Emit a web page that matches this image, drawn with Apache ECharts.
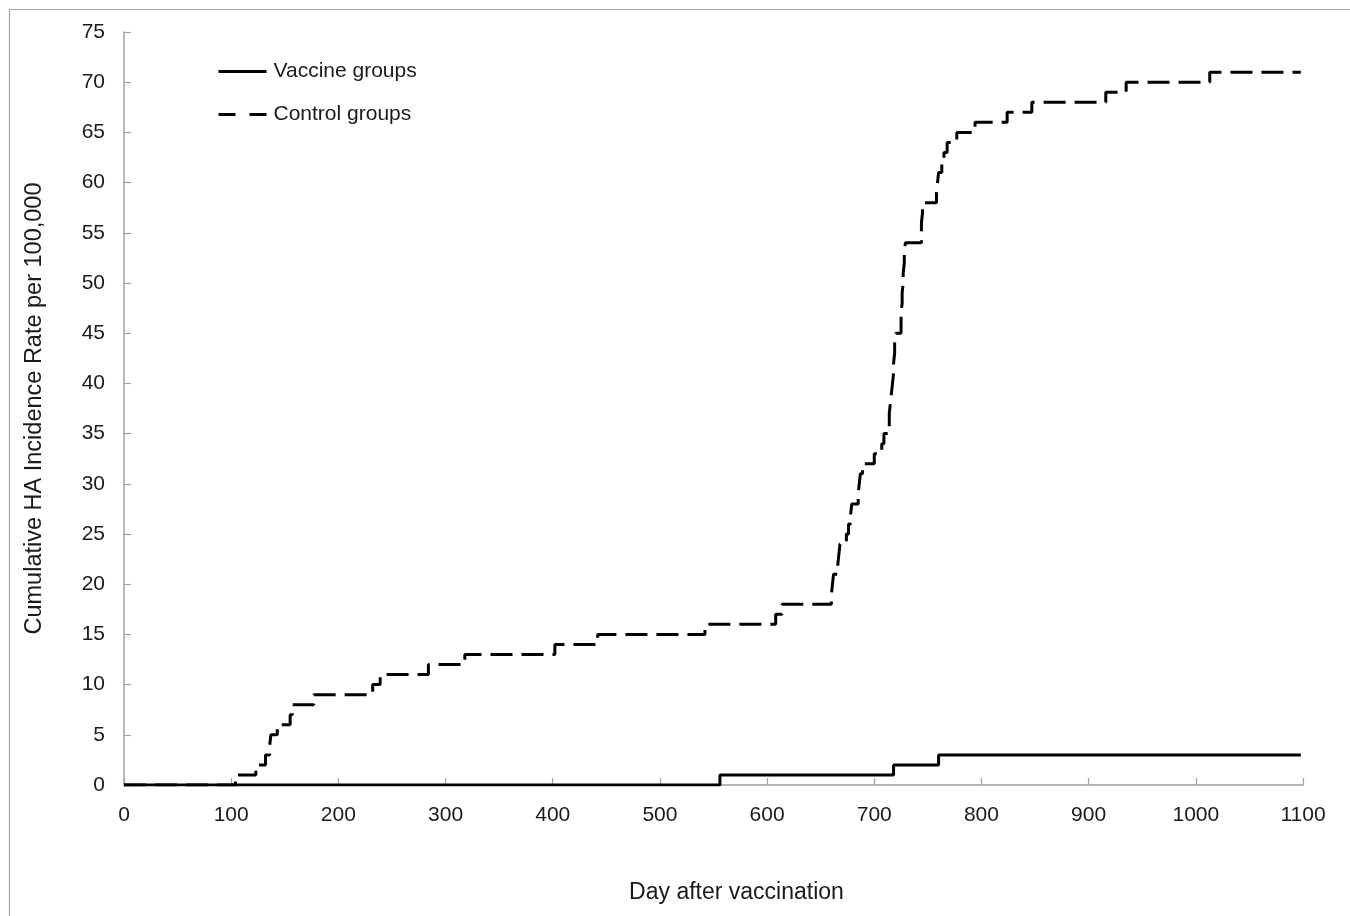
<!DOCTYPE html>
<html>
<head>
<meta charset="utf-8">
<script src="https://cdn.jsdelivr.net/npm/echarts@6/dist/echarts.min.js"></script>
<style>
html,body{margin:0;padding:0;background:#fff;}
#chart{width:1350px;height:916px;}
</style>
</head>
<body>
<div id="chart"></div>
<script>
var seriesNames = ['Vaccine groups', 'Control groups'];
var xTicks = [0, 100, 200, 300, 400, 500, 600, 700, 800, 900, 1000, 1100];
var yTicks = [0, 5, 10, 15, 20, 25, 30, 35, 40, 45, 50, 55, 60, 65, 70, 75];

var vaccineDays  = [0, 556, 718, 760, 1098];
var vaccineRates = [0, 1, 2, 3, 3];

var controlDays  = [0, 104, 123, 132, 136, 137, 143, 155, 157, 177, 232, 239, 284, 318, 402, 442, 542, 608, 614,
                    660, 661, 662, 666, 667, 668, 674, 676, 678, 679, 685, 686, 687, 689, 700, 707, 709,
                    714, 714, 715, 716, 717, 718, 718, 719, 719, 720, 725, 725, 726, 726, 727, 727, 728, 728, 729,
                    744, 744, 745, 745, 758, 759, 760, 763, 765, 768, 777, 794, 824, 847, 916, 935, 1013, 1098];
var controlRates = [0, 1, 2, 3, 4, 5, 6, 7, 8, 9, 10, 11, 12, 13, 14, 15, 16, 17, 18,
                    19, 20, 21, 22, 23, 24, 25, 26, 27, 28, 29, 30, 31, 32, 33, 34, 35,
                    36, 37, 38, 39, 40, 41, 42, 43, 44, 45, 46, 47, 48, 49, 50, 51, 52, 53, 54,
                    55, 56, 57, 58, 59, 60, 61, 62, 63, 64, 65, 66, 67, 68, 69, 70, 71, 71];

function pairs(xs, ys) { return xs.map(function (x, i) { return [x, ys[i]]; }); }

var FONT = '"Liberation Sans", Arial, sans-serif';
var chart = echarts.init(document.getElementById('chart'), null, {renderer: 'canvas'});
chart.setOption({
  backgroundColor: '#fff',
  animation: false,
  textStyle: {fontFamily: FONT, color: '#1a1a1a'},
  graphic: [{
    type: 'rect', left: 7, top: 7, silent: true, z: -1,
    shape: {width: 1400, height: 960},
    style: {fill: 'none', stroke: '#a6a6a6', lineWidth: 1.2}
  }],
  grid: {left: 124, right: 47, top: 32, bottom: 131, containLabel: false},
  legend: {
    orient: 'vertical', left: 217, top: 61, padding: 0, itemWidth: 48, itemHeight: 22, itemGap: 22,
    itemStyle: {opacity: 0},
    textStyle: {fontFamily: FONT, fontSize: 21, color: '#1a1a1a', padding: [0, 0, 0, 2]},
    data: [
      {name: seriesNames[0], lineStyle: {color: '#000', width: 3, type: 'solid'}},
      {name: seriesNames[1], lineStyle: {color: '#000', width: 3, type: [17, 14]}}
    ]
  },
  xAxis: {
    type: 'value', min: xTicks[0], max: xTicks[xTicks.length - 1], interval: 100,
    name: 'Day after vaccination', nameLocation: 'middle', nameGap: 96,
    nameTextStyle: {fontFamily: FONT, fontSize: 23, color: '#1a1a1a', padding: [0, 0, 0, 46]},
    axisLine: {show: true, lineStyle: {color: '#a0a0a0', width: 1.5}},
    axisTick: {show: true, inside: true, length: 7, lineStyle: {color: '#a0a0a0', width: 1.2}},
    axisLabel: {fontFamily: FONT, fontSize: 21, color: '#1a1a1a', margin: 20,
                formatter: function (v) { return String(v); }},
    splitLine: {show: false}
  },
  yAxis: {
    type: 'value', min: yTicks[0], max: yTicks[yTicks.length - 1], interval: 5,
    name: 'Cumulative HA Incidence Rate per 100,000', nameLocation: 'middle', nameGap: 77,
    nameTextStyle: {fontFamily: FONT, fontSize: 23.5, color: '#1a1a1a'},
    axisLine: {show: true, lineStyle: {color: '#a0a0a0', width: 1.5}},
    axisTick: {show: true, inside: true, length: 7, lineStyle: {color: '#a0a0a0', width: 1.2}},
    axisLabel: {fontFamily: FONT, fontSize: 21, color: '#1a1a1a', margin: 19,
                formatter: function (v) { return String(v); }},
    splitLine: {show: false}
  },
  series: [
    {
      name: seriesNames[0], type: 'line', step: 'end', showSymbol: false, symbol: 'none',
      data: pairs(vaccineDays, vaccineRates),
      lineStyle: {color: '#000', width: 3, type: 'solid'},
      itemStyle: {color: '#000'}, z: 3
    },
    {
      name: seriesNames[1], type: 'line', step: 'end', showSymbol: false, symbol: 'none',
      data: pairs(controlDays, controlRates),
      lineStyle: {color: '#000', width: 3, type: [22, 9]},
      itemStyle: {color: '#000'}, z: 2
    }
  ]
});
</script>
</body>
</html>
